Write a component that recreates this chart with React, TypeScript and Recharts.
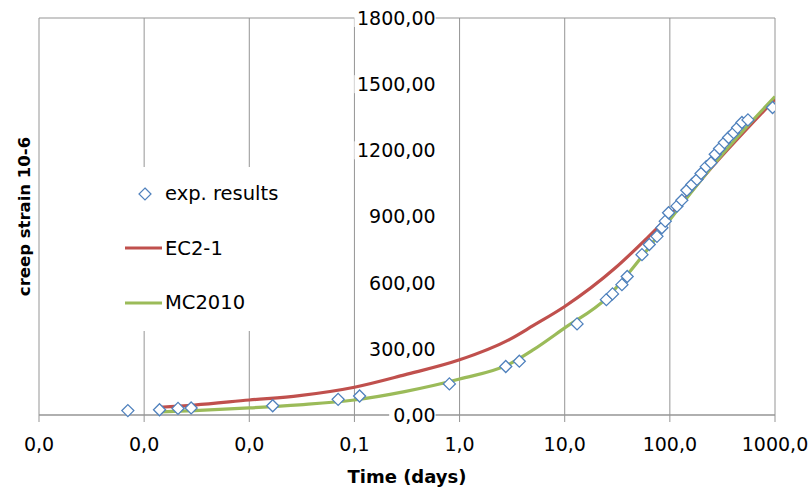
import React from 'react';
import {
  ComposedChart,
  Line,
  Scatter,
  XAxis,
  YAxis,
  CartesianGrid,
  ReferenceDot,
  Legend,
} from 'recharts';

const FONT = '"DejaVu Sans", Verdana, sans-serif';
const GRID = '#959595';
const BLUE = '#4F81BD';
const RED = '#C0504D';
const GREEN = '#9BBB59';

// measured creep (days / strain 10-6)
const expDays = [
  0.0007, 0.0014, 0.0021, 0.0028, 0.0167, 0.07, 0.112, 0.8, 2.75, 3.7, 13.1, 24.9, 28.5, 35,
  39.3, 54.3, 63.7, 75.4, 84, 90.4, 97.2, 116.8, 130, 145, 162, 181, 198, 222, 246, 270, 297,
  330, 362, 404, 441, 485, 553, 948,
];
const expStrain = [
  20, 24, 30, 32, 42, 71, 86, 141, 220, 244, 413, 523, 549, 591, 628, 727, 773, 810, 849, 879,
  917, 947, 974, 1019, 1045, 1068, 1095, 1126, 1144, 1182, 1208, 1235, 1258, 1280, 1303, 1326,
  1338, 1394,
];

// model curves
const ec2Days = [0.0014, 0.003, 0.01, 0.03, 0.1, 0.3, 1, 3, 5, 10, 30, 60, 100, 300, 1000];
const ec2Strain = [35, 45, 68, 88, 126, 182, 250, 343, 405, 492, 665, 800, 905, 1165, 1432];
const mcDays = [0.0014, 0.003, 0.01, 0.03, 0.1, 0.3, 1, 3, 5, 10, 25, 40, 60, 100, 300, 1000];
const mc2010Strain = [14, 20, 32, 46, 68, 106, 163, 232, 295, 395, 530, 640, 745, 885, 1170, 1444];

const xTicks = [0.0001, 0.001, 0.01, 0.1, 1, 10, 100, 1000];
const yTicks = [0, 300, 600, 900, 1200, 1500, 1800];

const expData = expDays.map((x, i) => ({ x, y: expStrain[i] }));
const ec2Data = ec2Days.map((x, i) => ({ x, y: ec2Strain[i] }));
const mcData = mcDays.map((x, i) => ({ x, y: mc2010Strain[i] }));

const fmtX = (v: number) => v.toFixed(1).replace('.', ',');
const fmtY = (v: number) => v.toFixed(2).replace('.', ',');

function Diamond(props: any) {
  const { cx, cy } = props;
  if (cx == null || cy == null) return null;
  const r = 6;
  return (
    <polygon
      points={`${cx},${cy - r} ${cx + r},${cy} ${cx},${cy + r} ${cx - r},${cy}`}
      fill="#fff"
      stroke={BLUE}
      strokeWidth={1.3}
    />
  );
}

// y tick labels sit next to the axis crossing at x = 1
const renderYTick = (props: any) => {
  const { viewBox, value } = props;
  if (!viewBox) return null;
  const x = viewBox.x + (viewBox.width || 0) / 2 - 24;
  const y = viewBox.y + (viewBox.height || 0) / 2;
  const w = String(value).length * 11.6;
  return (
    <g>
      <rect x={x - w} y={y - 9} width={w} height={18} fill="#fff" />
      <text
        x={x}
        y={y}
        dy="0.36em"
        textAnchor="end"
        fontSize={19}
        fontFamily={FONT}
        fill="#000"
      >
        {value}
      </text>
    </g>
  );
};

// rotated title, anchored on the left edge of the plot
const renderYTitle = (props: any) => {
  const { viewBox } = props;
  if (!viewBox) return null;
  const x = viewBox.x + (viewBox.width || 0) / 2 - 15;
  const y = viewBox.y + (viewBox.height || 0) / 2;
  return (
    <text
      x={x}
      y={y}
      transform={`rotate(-90 ${x} ${y})`}
      textAnchor="middle"
      dy="0.36em"
      fontSize={16.5}
      fontWeight="bold"
      fontFamily={FONT}
      fill="#000"
    >
      creep strain 10-6
    </text>
  );
};

const renderLegend = () => (
  <svg width={196} height={164} style={{ display: 'block' }}>
    <polygon points="39,21 45,27 39,33 33,27" fill="#fff" stroke={BLUE} strokeWidth={1.2} />
    <text x={59} y={33} fontSize={19.5} fontFamily={FONT} fill="#000">
      exp. results
    </text>
    <line x1={19} y1={81} x2={56} y2={81} stroke={RED} strokeWidth={3.2} />
    <text x={59} y={88} fontSize={19.5} fontFamily={FONT} fill="#000">
      EC2-1
    </text>
    <line x1={19} y1={136} x2={56} y2={136} stroke={GREEN} strokeWidth={3.2} />
    <text x={59} y={142} fontSize={19.5} fontFamily={FONT} fill="#000">
      MC2010
    </text>
  </svg>
);

export default function App() {
  return (
    <div style={{ position: 'absolute', left: 0, top: 0, background: '#fff', fontFamily: FONT }}>
      <ComposedChart
        width={812}
        height={489}
        margin={{ top: 18, right: 37, left: 39, bottom: 0 }}
      >
        <CartesianGrid stroke={GRID} strokeWidth={1} />
        <XAxis
          dataKey="x"
          type="number"
          scale="log"
          domain={[0.0001, 1000]}
          allowDataOverflow
          ticks={xTicks}
          interval={0}
          tickFormatter={fmtX}
          tick={{ fill: '#000', fontSize: 19, fontFamily: FONT }}
          tickSize={7}
          tickMargin={16}
          stroke={GRID}
          height={74}
          label={{
            value: 'Time (days)',
            position: 'insideBottom',
            offset: 6,
            fill: '#000',
            fontSize: 18,
            fontWeight: 'bold',
            fontFamily: FONT,
          }}
        />
        <YAxis
          type="number"
          domain={[0, 1800]}
          ticks={yTicks}
          width={0}
          tick={false}
          tickLine={false}
          axisLine={false}
        />
        <Legend
          layout="vertical"
          align="center"
          verticalAlign="middle"
          content={renderLegend}
          wrapperStyle={{ left: 106, top: 167, width: 196, height: 164, background: '#fff' }}
        />
        <Line
          data={ec2Data}
          dataKey="y"
          type="monotone"
          stroke={RED}
          strokeWidth={3.2}
          dot={false}
          activeDot={false}
          isAnimationActive={false}
        />
        <Line
          data={mcData}
          dataKey="y"
          type="monotone"
          stroke={GREEN}
          strokeWidth={3.2}
          dot={false}
          activeDot={false}
          isAnimationActive={false}
        />
        <Scatter data={expData} dataKey="y" shape={Diamond} isAnimationActive={false} />
        {yTicks.map((v) => (
          <ReferenceDot
            key={v}
            x={1}
            y={v}
            r={0}
            fill="none"
            stroke="none"
            ifOverflow="visible"
            label={{ value: fmtY(v), content: renderYTick }}
          />
        ))}
        <ReferenceDot
          x={0.0001}
          y={900}
          r={0}
          fill="none"
          stroke="none"
          ifOverflow="visible"
          label={{ value: 'creep strain 10-6', content: renderYTitle }}
        />
      </ComposedChart>
    </div>
  );
}
